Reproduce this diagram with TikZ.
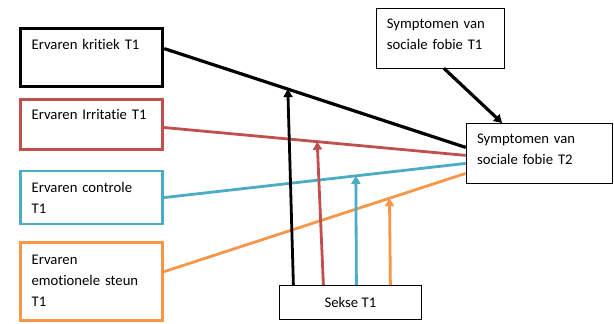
\documentclass[tikz,border=0pt]{standalone}
\usepackage{fontspec}
\setmainfont[Ligatures=NoCommon]{Carlito}
\usepackage{xcolor}
\usetikzlibrary{arrows.meta,positioning,calc}
\definecolor{krit}{HTML}{000000}
\definecolor{irri}{HTML}{C0504D}
\definecolor{ctrl}{HTML}{4BACC6}
\definecolor{steun}{HTML}{F79646}
\tikzset{
  box/.style={draw=#1, rectangle, fill=white, align=left, text width=120pt, inner xsep=11pt, inner ysep=0pt,
    font=\fontsize{14.7}{21}\selectfont},
  box/.default=black,
  pad/.style 2 args={text height=#1, text depth=#2},
  arr/.style={-{Triangle[length=8pt, width=9pt]}, line width=2.8pt},
}

\begin{document}
\begin{tikzpicture}[x=1pt, y=-1pt, node distance=10pt]
  \useasboundingbox (0,0) rectangle (614,324);
  \node[box=krit, line width=3.2pt, pad={21pt}{37pt}, anchor=north west] (kritiek) at (19,27) {Ervaren kritiek T1};
  \node[box=irri, line width=2.6pt, pad={20pt}{30pt}, below=10pt of kritiek] (irritatie) {Ervaren Irritatie T1};
  \node[box=ctrl, line width=2.6pt, pad={21.5pt}{31.5pt}, below=19pt of irritatie] (controle) {Ervaren controle\\T1};
  \node[box=steun, line width=2.6pt, pad={22pt}{56pt}, below=16pt of controle] (steunT1) {Ervaren\\emotionele steun\\T1};
  \node[box, line width=0.8pt, text width=106pt, pad={20.5pt}{39.5pt}, anchor=north west] (fobieT1) at (375.5,7.5) {Symptomen van\\sociale fobie T1};
  \node[box, line width=0.8pt, text width=124pt, pad={20pt}{40pt}, anchor=north east] (fobieT2) at (612.5,123) {Symptomen van\\sociale fobie T2};
  \node[draw, line width=0.8pt, minimum width=142pt, minimum height=34pt, inner sep=0pt,
    font=\fontsize{14.7}{21}\selectfont, anchor=north west] (sekse) at (279,285) {Sekse T1};
  % end points of the paths
  \coordinate (ka) at ([yshift=9pt]kritiek.east);
  \coordinate (kb) at ([yshift=6pt]fobieT2.west);
  \coordinate (ia) at ([yshift=-3pt]irritatie.east);
  \coordinate (ib) at ([yshift=-2pt]fobieT2.west);
  \coordinate (ca) at (controle.east);
  \coordinate (cb) at ([yshift=-10pt]fobieT2.west);
  \coordinate (sa) at ([yshift=10pt]steunT1.east);
  \coordinate (sb) at ([yshift=-20pt]fobieT2.west);
  \draw[krit, line width=3.2pt] (ka) -- (kb);
  \draw[irri, line width=2.8pt] (ia) -- (ib);
  \draw[ctrl, line width=2.8pt] (ca) -- (cb);
  \draw[steun, line width=2.8pt] (sa) -- (sb);
  % moderation by sekse
  \coordinate (mk) at ($(ka)!0.41!(kb)$);
  \coordinate (mi) at ($(ia)!0.508!(ib)$);
  \coordinate (mc) at ($(ca)!0.636!(cb)$);
  \coordinate (ms) at ($(sa)!0.7475!(sb)$);
  \draw[arr, krit] ([xshift=-57pt]sekse.north) -- (mk);
  \draw[arr, irri] ([xshift=-27pt]sekse.north) -- (mi);
  \draw[arr, ctrl] ([xshift=6pt]sekse.north) -- (mc);
  \draw[arr, steun] ([xshift=40pt]sekse.north) -- (ms);
  \draw[arr, black, line width=3.2pt] ([xshift=4pt]fobieT1.south) -- ([xshift=-37pt]fobieT2.north);
\end{tikzpicture}
\end{document}
